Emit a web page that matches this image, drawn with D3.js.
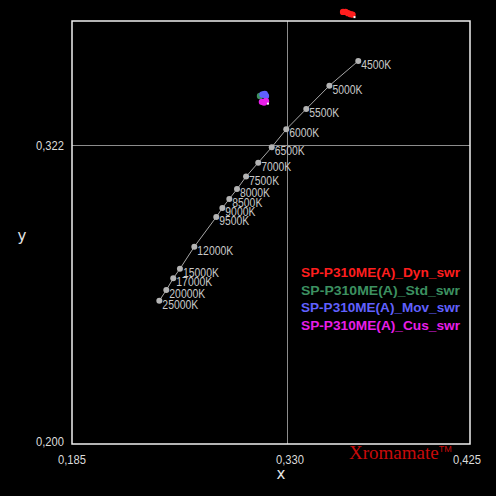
<!DOCTYPE html>
<html>
<head>
<meta charset="utf-8">
<script src="https://cdn.jsdelivr.net/npm/d3@7"></script>
<style>
  html, body { margin: 0; padding: 0; background: #000; }
  svg { display: block; }
</style>
</head>
<body>
<svg id="chart" width="496" height="496"></svg>
<script>
// Planckian locus reference points (CCT labels and chromaticity)
const cctLabels = ["4500K","5000K","5500K","6000K","6500K","7000K","7500K","8000K","8500K","9000K","9500K","12000K","15000K","17000K","20000K","25000K"];
const cctX = [0.3670,0.3520,0.3400,0.3295,0.3197,0.3106,0.3024,0.2963,0.2911,0.2864,0.2823,0.2675,0.2578,0.2533,0.2486,0.2439];
const cctY = [0.3563,0.3462,0.3367,0.3284,0.3211,0.3148,0.3091,0.3040,0.3000,0.2963,0.2926,0.2805,0.2715,0.2676,0.2628,0.2585];

// Measured series
const seriesNames = ["SP-P310ME(A)_Dyn_swr","SP-P310ME(A)_Std_swr","SP-P310ME(A)_Mov_swr","SP-P310ME(A)_Cus_swr"];
const seriesColors = ["#ff1e1e","#3c9060","#6060ff","#e81ee8"];
const dynX = [0.3591,0.3604,0.3617,0.3630,0.3640];
const dynY = [0.3763,0.3763,0.3758,0.3754,0.3752];
const stdX = [0.3118];
const stdY = [0.3420];
const movX = [0.3135,0.3150,0.3158];
const movY = [0.3426,0.3428,0.3420];
const cusX = [0.3131,0.3145,0.3158];
const cusY = [0.3396,0.3393,0.3399];

// Axis ticks
const xTicks = [0.185, 0.330, 0.425];
const yTicks = [0.200, 0.322];
const xTickLabels = ["0,185","0,330","0,425"];
const yTickLabels = ["0,200","0,322"];

const svg = d3.select("#chart");
const L = 72, R = 470, T = 21, B = 444;

const x = d3.scaleLinear().domain([0.185, 0.330, 0.425]).range([L, 287, R]);
const y = d3.scaleLinear().domain([0.200, 0.322]).range([B, 145]);

svg.append("rect").attr("width", 496).attr("height", 496).attr("fill", "#000");

// crosshair grid lines
svg.append("line").attr("x1", x(0.330)).attr("x2", x(0.330)).attr("y1", T).attr("y2", B)
  .attr("stroke", "#8c8c8c").attr("stroke-width", 1).attr("shape-rendering", "crispEdges");
svg.append("line").attr("x1", L).attr("x2", R).attr("y1", y(0.322)).attr("y2", y(0.322))
  .attr("stroke", "#8c8c8c").attr("stroke-width", 1).attr("shape-rendering", "crispEdges");

// frame
svg.append("rect").attr("x", L).attr("y", T).attr("width", R - L).attr("height", B - T)
  .attr("fill", "none").attr("stroke", "#f0f0f0").attr("stroke-width", 1.5);

// tick labels
const tickFont = "'Liberation Sans', sans-serif";
svg.selectAll(".xt").data(xTicks).enter().append("text")
  .attr("x", (d, i) => x(d) + (i === 1 ? 3 : (i === 0 ? 0 : -3)))
  .attr("y", 464)
  .attr("text-anchor", "middle")
  .attr("fill", "#dcdcdc").attr("font-family", tickFont).attr("font-size", 13)
  .attr("textLength", 28).attr("lengthAdjust", "spacingAndGlyphs")
  .text((d, i) => xTickLabels[i]);
svg.selectAll(".yt").data(yTicks).enter().append("text")
  .attr("x", 64)
  .attr("y", (d) => y(d) + 5 - (d === 0.2 ? 3 : 0))
  .attr("text-anchor", "end")
  .attr("fill", "#dcdcdc").attr("font-family", tickFont).attr("font-size", 13)
  .attr("textLength", 28).attr("lengthAdjust", "spacingAndGlyphs")
  .text((d, i) => yTickLabels[i]);

// axis titles
svg.append("text").attr("x", 281).attr("y", 479).attr("text-anchor", "middle")
  .attr("fill", "#e6e6e6").attr("font-family", "'DejaVu Sans', sans-serif").attr("font-size", 15).text("x");
svg.append("text").attr("x", 22).attr("y", 241).attr("text-anchor", "middle")
  .attr("fill", "#e6e6e6").attr("font-family", "'DejaVu Sans', sans-serif").attr("font-size", 15).text("y");

// locus line
const pts = cctX.map((d, i) => [d, cctY[i], cctLabels[i]]);
svg.append("path").datum(pts)
  .attr("d", d3.line().x(d => x(d[0])).y(d => y(d[1])))
  .attr("fill", "none").attr("stroke", "#a8a8a8").attr("stroke-width", 1);
svg.selectAll(".cct").data(pts).enter().append("circle")
  .attr("cx", d => x(d[0])).attr("cy", d => y(d[1])).attr("r", 3)
  .attr("fill", "#b4b4b4");
svg.selectAll(".cctl").data(pts).enter().append("text")
  .attr("x", d => x(d[0]) + 3).attr("y", d => y(d[1]) + 8)
  .attr("fill", "#c8c8c8").attr("font-family", tickFont).attr("font-size", 12.5)
  .attr("textLength", d => d[2].length * 6).attr("lengthAdjust", "spacingAndGlyphs")
  .text(d => d[2]);

// series points
const series = [
  {xs: dynX, ys: dynY},
  {xs: stdX, ys: stdY},
  {xs: movX, ys: movY},
  {xs: cusX, ys: cusY}
];
series.forEach((s, si) => {
  const data = s.xs.map((v, i) => [v, s.ys[i]]);
  svg.selectAll(".s" + si).data(data).enter().append("circle")
    .attr("cx", d => x(d[0])).attr("cy", d => y(d[1])).attr("r", 3.2)
    .attr("fill", seriesColors[si]);
  const last = data[data.length - 1];
  if (si === 0 || si === 3) {
    svg.append("rect").attr("x", x(last[0]) + 1).attr("y", y(last[1]) + 1.5)
      .attr("width", 2).attr("height", 2).attr("fill", "#fff");
  }
});

// legend
seriesNames.forEach((n, i) => {
  svg.append("text").attr("x", 301).attr("y", 277 + i * 17.6)
    .attr("fill", seriesColors[i]).attr("font-family", "'Liberation Sans', sans-serif")
    .attr("font-size", 13.5).attr("font-weight", "bold")
    .attr("textLength", 159).attr("lengthAdjust", "spacingAndGlyphs")
    .text(n);
});

// logo
const logo = svg.append("text").attr("x", 349).attr("y", 459)
  .attr("fill", "#c80a0a").attr("font-family", "'Liberation Serif', serif")
  .attr("font-size", 19);
logo.append("tspan").text("Xromamate");
logo.append("tspan").attr("font-size", 9).attr("dy", -7).attr("font-family", "'Liberation Sans', sans-serif").text("TM");
</script>
</body>
</html>
